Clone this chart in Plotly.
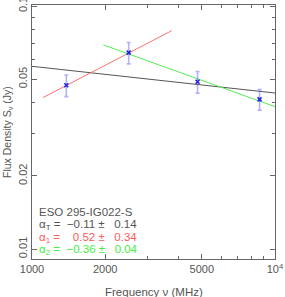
import numpy as np
import plotly.graph_objects as go

# Data
freq_mhz = [1384, 2500, 4800, 8640]
flux_jy = [0.0472, 0.0643, 0.0488, 0.0413]
flux_err = [0.0048, 0.0065, 0.0050, 0.0040]

# Fits: (alpha, flux at start, start freq, end freq)
fit_total = dict(alpha=-0.11, s0=0.0565, f0=1000, f1=10000)
fit_1 = dict(alpha=0.52, s0=0.0420, f0=1110, f1=3760)
fit_2 = dict(alpha=-0.36, s0=0.0692, f0=1967, f1=10000)

x_ticks = [1000, 2000, 5000, 10000]
x_ticktext = ["1000", "2000", "5000", "10<sup>4</sup>"]
x_minor = [3000, 4000, 6000, 7000, 8000, 9000]
y_ticks = [0.01, 0.02, 0.05, 0.1]
y_ticktext = ["0.01", "0.02", "0.05", "0.1"]
y_minor = [0.03, 0.04, 0.06, 0.07, 0.08, 0.09]

NB = "\u00a0"
label_lines = [
    ("ESO 295-IG022-S", "#555555"),
    (f"α<sub>T</sub> ={NB}{NB}−0.11 ±{NB}{NB} 0.14", "#555555"),
    (f"α<sub>1</sub> ={NB}{NB}{NB} 0.52 ±{NB}{NB} 0.34", "#ff5a5a"),
    (f"α<sub>2</sub> ={NB}{NB}−0.36 ±{NB}{NB} 0.04", "#44ee44"),
]

FONT = "Liberation Sans"
GRAY = "#555555"

def fit_line(p):
    f = np.array([p["f0"], p["f1"]], dtype=float)
    s = p["s0"] * (f / p["f0"]) ** p["alpha"]
    return f, s

fig = go.Figure()
for p, col in [(fit_total, "#555555"), (fit_1, "#ff7070"), (fit_2, "#55ee55")]:
    f, s = fit_line(p)
    fig.add_trace(go.Scatter(x=f, y=s, mode="lines", line=dict(color=col, width=1), showlegend=False))

fig.add_trace(go.Scatter(
    x=freq_mhz, y=flux_jy, mode="markers",
    marker=dict(symbol="x-thin", size=4, line=dict(color="#2222dd", width=1.5)),
    error_y=dict(type="data", array=flux_err, color="rgba(100,100,255,0.5)", thickness=1.6, width=2),
    showlegend=False,
))

top, bottom, left, right = 5, 259, 32, 275
ann = []
for i, (txt, col) in enumerate(label_lines):
    ypix = 212 + 12.8 * i
    ann.append(dict(x=(37 - left) / (right - left), xref="paper", y=(bottom - ypix) / (bottom - top), yref="paper",
                    text=txt, showarrow=False, xanchor="left", yanchor="middle",
                    font=dict(color=col, size=11.5, family=FONT)))
ann.append(dict(x=0.5, xref="paper", y=(bottom - 292) / (bottom - top), yref="paper",
                text="Frequency ν (MHz)", showarrow=False, xanchor="center", yanchor="middle",
                font=dict(color=GRAY, size=11.5, family=FONT)))
ann.append(dict(x=(8 - left) / (right - left), xref="paper", y=0.5, yref="paper", textangle=-90,
                text="Flux Density S<sub>ν</sub> (Jy)", showarrow=False, xanchor="center", yanchor="middle",
                font=dict(color=GRAY, size=10.5, family=FONT)))
fig.layout.annotations = ann

axis_common = dict(
    showline=True, linecolor="#666666", linewidth=1, mirror="allticks", automargin=False,
    ticks="inside", ticklen=5, tickcolor="#666666", showgrid=False, zeroline=False,
    tickfont=dict(size=11, color=GRAY, family=FONT), ticklabeloverflow="allow",
)

fig.update_xaxes(type="log", range=[3, 4], tickmode="array", tickvals=x_ticks, ticktext=x_ticktext,
                 minor=dict(ticks="inside", ticklen=3, tickcolor="#666666", tickmode="array", tickvals=x_minor),
                 **axis_common)
fig.update_yaxes(type="log", range=[np.log10(0.0091), np.log10(0.101)], tickmode="array",
                 tickvals=y_ticks, ticktext=y_ticktext, tickangle=-90,
                 minor=dict(ticks="inside", ticklen=3, tickcolor="#666666", tickmode="array", tickvals=y_minor),
                 **axis_common)

fig.update_layout(
    width=285, height=297,
    margin=dict(l=left, r=285 - right, t=top, b=297 - bottom),
    paper_bgcolor="white", plot_bgcolor="white",
)

fig.write_html("out.html", config={"displayModeBar": False},
               post_script="document.body.style.margin='0';document.body.style.overflow='hidden';")
